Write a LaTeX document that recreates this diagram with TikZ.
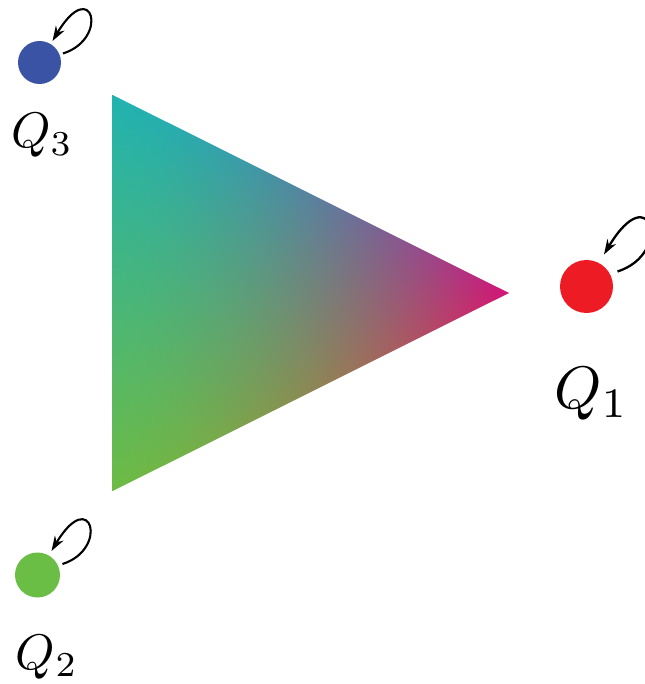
\documentclass[tikz,border=0pt]{standalone}
\usetikzlibrary{arrows.meta}
\definecolor{qblue}{RGB}{58,83,164}
\definecolor{qred}{RGB}{237,28,36}
\definecolor{qgreen}{RGB}{106,189,69}
% barycentric-like blend: A (25,75) teal, B (25,25) green, C (75,50) magenta
\pgfdeclarefunctionalshading{trishade}{\pgfpoint{0bp}{0bp}}{\pgfpoint{100bp}{100bp}}{}{
 exch dup 0.02 mul 0.5 sub
 dup 0 lt {pop 0} if dup 0.999 gt {pop 0.999} if
 3 1 roll
 0.01 mul neg exch 0.02 mul add 0.25 sub
 1 index 1 exch sub div
 dup 0 lt {pop 0} if dup 1 gt {pop 1} if
 exch 1.7 exp
 2 copy
 exch -0.30 mul 0.43 add exch dup 0.83 mul 3 1 roll 1 exch sub mul add
 3 1 roll
 2 copy
 exch -0.03 mul 0.73 add exch dup 0.08 mul 3 1 roll 1 exch sub mul add
 3 1 roll
 exch 0.42 mul 0.27 add exch dup 0.46 mul 3 1 roll 1 exch sub mul add
}
\tikzset{
  dot/.style={circle, inner sep=0pt, outer sep=0pt, draw=none},
  loopline/.style={line width=2.1pt, -{Stealth[length=15pt,width=10pt]}},
  lbl/.style={inner sep=0pt, anchor=base west},
}
\begin{document}
\begin{tikzpicture}[x=1pt,y=-1pt]
\useasboundingbox (0,0) rectangle (644,684);
% gradient triangle
\shade[shading=trishade] (112.7,95) -- (112.7,491) -- (509,293) -- cycle;
% states
\node[dot, fill=qblue, minimum size=43pt] (q3) at (39.5,62.5) {};
\node[dot, fill=qred, minimum size=53pt] (q1) at (586.5,286.5) {};
\node[dot, fill=qgreen, minimum size=45pt] (q2) at (37.5,575) {};
% self loops
\draw[loopline] ([shift={(23.5,-9)}]q3.center) .. controls +(47,-15) and +(39.5,-66) .. ([shift={(13,-21.5)}]q3.center);
\draw[loopline] ([shift={(25,-11)}]q2.center) .. controls +(47,-15) and +(39.5,-66) .. ([shift={(14,-24)}]q2.center);
\draw[loopline, line width=2.3pt] ([shift={(31,-15)}]q1.center) .. controls +(56,-18) and +(47,-79) .. ([shift={(17.5,-32)}]q1.center);
% labels
\node[lbl, scale=5] (l3) at (10,148) {$Q_3$};
\node[lbl, scale=6] (l1) at (553,408) {$Q_1$};
\node[lbl, scale=5] (l2) at (15,669) {$Q_2$};
\end{tikzpicture}
\end{document}
